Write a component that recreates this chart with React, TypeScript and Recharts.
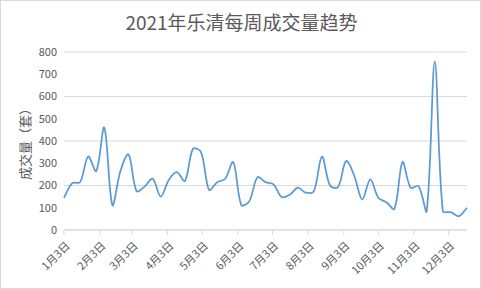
import { CartesianGrid, Line, LineChart, XAxis, YAxis } from 'recharts'

const title = '2021年乐清每周成交量趋势'
const yLabel = '成交量（套）'

// weekly points, first week starts 2021-01-03
const weekCount = 51
const volumes = [
  145, 210, 215, 330, 265, 460, 112, 265, 340, 175,
  195, 230, 150, 225, 260, 220, 365, 350, 180, 215,
  230, 305, 112, 130, 237, 215, 205, 148, 158, 190,
  168, 175, 330, 200, 193, 310, 245, 137, 228, 145,
  125, 95, 305, 190, 197, 85, 757, 85, 80, 62,
  100,
]

const tickLabels = [
  '1月3日', '2月3日', '3月3日', '4月3日', '5月3日', '6月3日',
  '7月3日', '8月3日', '9月3日', '10月3日', '11月3日', '12月3日',
]
const yTicks = [0, 100, 200, 300, 400, 500, 600, 700, 800]

const DAY = 86400000
const start = Date.UTC(2021, 0, 3)
const tickDays = tickLabels.map((_, m) => (Date.UTC(2021, m, 3) - start) / DAY)

const data = volumes.slice(0, weekCount).map((v, i) => ({ day: i * 7, volume: v }))

const font = '"Noto Sans CJK SC", "Noto Sans", sans-serif'
const grey = '#595959'

// smoothed line close to Excel's: tangent split by neighbouring segment lengths
function excelSmooth(context: any) {
  let pts: number[][] = []
  const dist = (a: number[], b: number[]) => Math.hypot(b[0] - a[0], b[1] - a[1])
  return {
    areaStart() {},
    areaEnd() {},
    lineStart() {
      pts = []
    },
    point(x: number, y: number) {
      pts.push([+x, +y])
    },
    lineEnd() {
      if (!pts.length) return
      const n = pts.length
      const outC: number[][] = []
      const inC: number[][] = []
      for (let i = 0; i < n; i++) {
        const prev = pts[i - 1] || pts[i]
        const next = pts[i + 1] || pts[i]
        const tx = next[0] - prev[0]
        const ty = next[1] - prev[1]
        const dIn = dist(prev, pts[i])
        const dOut = dist(pts[i], next)
        const sum = dIn + dOut || 1
        const fo = (dOut / sum) / 3
        const fi = (dIn / sum) / 3
        outC.push([pts[i][0] + tx * fo, pts[i][1] + ty * fo])
        inC.push([pts[i][0] - tx * fi, pts[i][1] - ty * fi])
      }
      context.moveTo(pts[0][0], pts[0][1])
      for (let i = 0; i < n - 1; i++) {
        context.bezierCurveTo(
          outC[i][0], outC[i][1],
          inC[i + 1][0], inC[i + 1][1],
          pts[i + 1][0], pts[i + 1][1],
        )
      }
    },
  }
}

function DateTick({ x, y, payload }: any) {
  const idx = tickDays.indexOf(payload.value)
  return (
    <text
      x={x + 3}
      y={y + 6}
      transform={`rotate(-45, ${x + 3}, ${y + 6})`}
      textAnchor="end"
      dominantBaseline="central"
      fill={grey}
      fontSize={11}
      fontFamily={font}
    >
      {tickLabels[idx]}
    </text>
  )
}

export default function App() {
  return (
    <div
      style={{
        position: 'absolute',
        left: 0,
        top: 0,
        width: 481,
        height: 289,
        boxSizing: 'border-box',
        border: '1px solid #d9d9d9',
        background: '#fff',
        fontFamily: font,
      }}
    >
      <div
        style={{
          position: 'absolute',
          left: 0,
          top: 8,
          width: 481,
          textAlign: 'center',
          fontSize: 19,
          color: grey,
          lineHeight: '26px',
        }}
      >
        {title}
      </div>
      <LineChart
        width={479}
        height={287}
        data={data}
        margin={{ top: 51, right: 13, left: 0, bottom: 0 }}
        style={{ position: 'absolute', left: 0, top: 0 }}
      >
        <CartesianGrid vertical={false} stroke="#d9d9d9" />
        <XAxis
          dataKey="day"
          type="number"
          domain={[0, 350]}
          ticks={tickDays}
          interval={0}
          height={58}
          axisLine={{ stroke: '#d9d9d9' }}
          tickLine={{ stroke: '#d9d9d9' }}
          tickSize={5}
          tick={<DateTick />}
        />
        <YAxis
          domain={[0, 800]}
          ticks={yTicks}
          width={63}
          axisLine={false}
          tickLine={false}
          tickMargin={1}
          tick={{ fill: grey, fontSize: 11, fontFamily: font }}
          label={{
            value: yLabel,
            angle: -90,
            position: 'center',
            dx: -7,
            fill: grey,
            fontSize: 13,
            fontFamily: font,
          }}
        />
        <Line
          dataKey="volume"
          type={excelSmooth as any}
          stroke="#5b9bd5"
          strokeWidth={1.75}
          dot={false}
          isAnimationActive={false}
        />
      </LineChart>
    </div>
  )
}
